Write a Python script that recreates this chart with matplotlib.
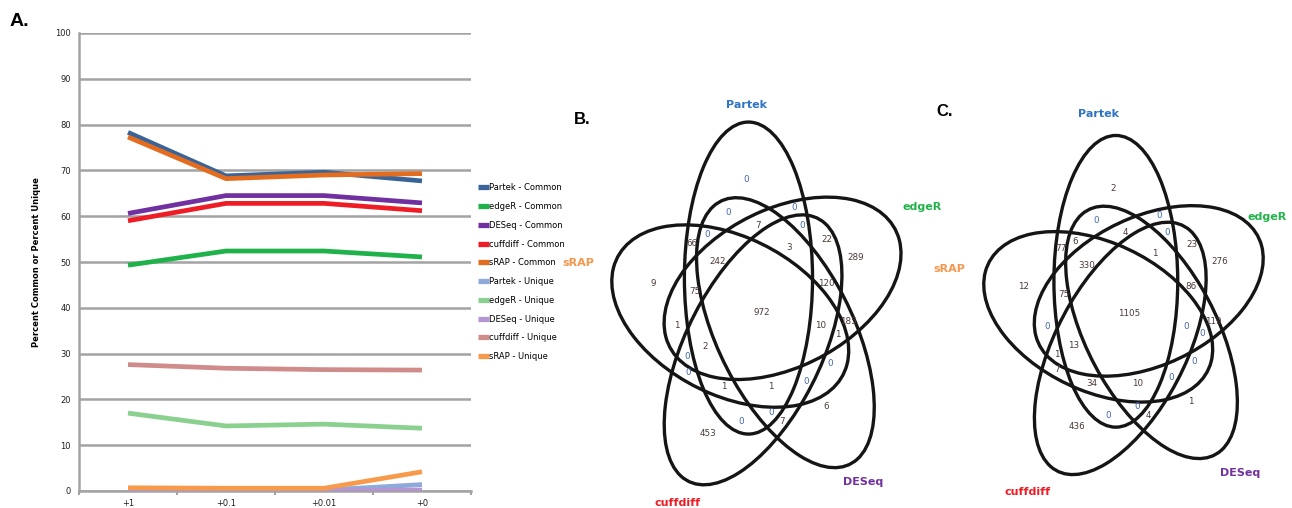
import matplotlib
matplotlib.use('Agg')
import matplotlib.pyplot as plt
from matplotlib.patches import Ellipse
import numpy as np

# ---------------- Panel A data ----------------
thresholds = ['+1', '+0.1', '+0.01', '+0']
series_names = ['Partek - Common', 'edgeR - Common', 'DESeq - Common', 'cuffdiff - Common', 'sRAP - Common',
                'Partek - Unique', 'edgeR - Unique', 'DESeq - Unique', 'cuffdiff - Unique', 'sRAP - Unique']
partek_common = [78.3, 68.8, 69.6, 67.7]
edger_common = [49.3, 52.4, 52.4, 51.1]
deseq_common = [60.6, 64.5, 64.5, 62.9]
cuffdiff_common = [59.0, 62.8, 62.8, 61.2]
srap_common = [77.3, 68.2, 69.0, 69.3]
partek_unique = [0.2, 0.2, 0.2, 1.4]
edger_unique = [17.0, 14.2, 14.6, 13.7]
deseq_unique = [0.1, 0.1, 0.1, 0.2]
cuffdiff_unique = [27.6, 26.8, 26.5, 26.4]
srap_unique = [0.7, 0.6, 0.6, 4.2]
series_values = [partek_common, edger_common, deseq_common, cuffdiff_common, srap_common,
                 partek_unique, edger_unique, deseq_unique, cuffdiff_unique, srap_unique]
series_colors = ['#3a6497', '#1fb24a', '#7030a0', '#ee1c25', '#e46c1f',
                 '#8eaadb', '#8ad08f', '#b595d1', '#d08c8a', '#f89a4c']

# ---------------- Panels B / C data ----------------
set_names = ['Partek', 'edgeR', 'DESeq', 'cuffdiff', 'sRAP']
set_colors = ['#2e74c4', '#22b24c', '#7030a0', '#ee1c25', '#f7964a']
counts_B = [0, 0, 0, 7, 0, 0, 66, 22, 3, 242, 289, 9, 120, 75, 972, 1, 10, 185, 1, 2,
            0, 0, 0, 1, 1, 0, 6, 0, 7, 0, 453]
counts_C = [2, 0, 0, 4, 0, 6, 77, 23, 1, 330, 276, 12, 86, 75, 1105, 0, 0, 119, 0, 13,
            1, 0, 7, 34, 10, 0, 1, 0, 4, 0, 436]

# region label positions (diagram coordinates, layout only)
region_u = [-0.052, -0.120, 0.127, -0.007, 0.157, -0.199, -0.255, 0.251, 0.109, -0.157,
            0.360, -0.401, 0.247, -0.243, 0.007, -0.311, 0.228, 0.333, 0.292, -0.206,
            -0.273, 0.262, -0.270, -0.135, 0.041, 0.172, 0.247, 0.041, 0.082, -0.071, -0.195]
region_v = [0.395, 0.295, 0.310, 0.257, 0.257, 0.230, 0.206, 0.218, 0.192, 0.153,
            0.165, 0.088, 0.088, 0.062, 0.0, -0.038, -0.038, -0.024, -0.062, -0.100,
            -0.127, -0.150, -0.174, -0.218, -0.218, -0.201, -0.277, -0.292, -0.319, -0.319, -0.354]

fig = plt.figure(figsize=(12.92, 5.08), dpi=100)
W, H = 1292.0, 508.0

def fx(px):
    return px / W

def fy(py):
    return 1 - py / H

narrow = ['Liberation Sans Narrow', 'DejaVu Sans']

# ---------------- Panel A ----------------
ax = fig.add_axes([fx(79), fy(491), fx(471) - fx(79), fy(33) - fy(491)])
x = np.arange(len(thresholds))
for name, vals, col in zip(series_names, series_values, series_colors):
    ax.plot(x, vals, color=col, lw=3.4, label=name, solid_capstyle='butt', zorder=3)
ax.set_xlim(-0.5, len(thresholds) - 0.5)
ax.set_ylim(0, 100)
ax.set_yticks(np.arange(0, 101, 10))
ax.yaxis.grid(True, color='#a3a3a3', lw=1.8)
ax.set_axisbelow(True)
ax.set_xticks(x)
ax.set_xticklabels(thresholds, fontsize=6, family=narrow, color='#202020')
ax.set_xticks(np.arange(-0.5, len(thresholds), 1.0), minor=True)
ax.tick_params(axis='x', which='major', length=0, pad=6)
ax.tick_params(axis='x', which='minor', length=3, width=1.5, color='#a3a3a3', direction='out')
ax.tick_params(axis='y', length=0, pad=6, labelsize=6, labelcolor='#202020')
for lab in ax.get_yticklabels():
    lab.set_family(narrow)
for s in ['top', 'right']:
    ax.spines[s].set_visible(False)
for s in ['left', 'bottom']:
    ax.spines[s].set_color('#a3a3a3')
    ax.spines[s].set_linewidth(1.8)
ax.set_ylabel('Percent Common or Percent Unique', fontsize=6, fontweight='bold', labelpad=10)
leg = ax.legend(loc='upper left', bbox_to_anchor=(fx(475), fy(180)), bbox_transform=fig.transFigure,
                frameon=False, prop={'family': narrow, 'size': 6}, handlelength=1.3,
                handletextpad=0.0, labelspacing=1.17, borderaxespad=0)
for line in leg.get_lines():
    line.set_linewidth(3.8)

fig.text(fx(10), fy(21), 'A.', fontsize=14, fontweight='bold', va='center', ha='left',
         family=['Liberation Sans', 'DejaVu Sans'])

# ---------------- Venn panels ----------------
a_semi, b_semi = 0.24, 0.46
p_off, q_off = -0.043, 0.103

def draw_venn(rect, xlim, ylim, counts, label_pos, letter, letter_pos):
    axv = fig.add_axes(rect)
    axv.set_xlim(*xlim)
    axv.set_ylim(*ylim)
    axv.axis('off')
    for k in range(5):
        ang = -72.0 * k
        t = np.deg2rad(ang)
        cx = p_off * np.cos(t) - q_off * np.sin(t)
        cy = p_off * np.sin(t) + q_off * np.cos(t)
        axv.add_patch(Ellipse((cx, cy), 2 * a_semi, 2 * b_semi, angle=ang, fill=False,
                              lw=2.4, ec='#151515', zorder=2))
    for n, u, v in zip(counts, region_u, region_v):
        col = '#4266b0' if n == 0 else '#4a3a36'
        axv.text(u, v, str(n), fontsize=6.3, ha='center', va='center', color=col,
                 family=narrow, zorder=3)
    for name, col, (u, v) in zip(set_names, set_colors, label_pos):
        axv.text(u, v, name, fontsize=8, ha='center', va='center', color=col,
                 family=narrow, fontweight='bold', clip_on=False)
    fig.text(fx(letter_pos[0]), fy(letter_pos[1]), letter, fontsize=12, fontweight='bold',
             ha='left', va='center', family=['Liberation Sans', 'DejaVu Sans'])
    return axv

labels_B = [(-0.052, 0.614), (0.607, 0.313), (0.386, -0.499), (-0.307, -0.560), (-0.682, 0.147)]
labels_C = [(-0.112, 0.631), (0.545, 0.307), (0.438, -0.502), (-0.384, -0.562), (-0.690, 0.142)]

draw_venn([fx(560), 0, fx(930) - fx(560), fy(80)], (-0.749, 0.637), (-0.575, 0.687),
          counts_B, labels_B, 'B.', (574, 119))
draw_venn([fx(935), 0, fx(1292) - fx(935), fy(80)], (-0.744, 0.640), (-0.612, 0.738),
          counts_C, labels_C, 'C.', (936, 112))

fig.savefig('out.png', dpi=100)
